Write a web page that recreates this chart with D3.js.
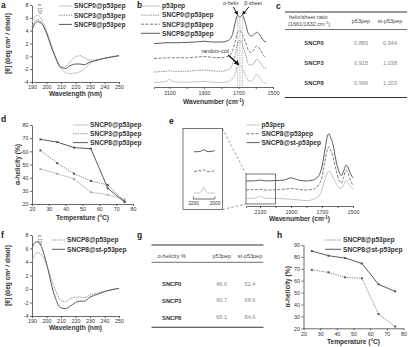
<!DOCTYPE html>
<html>
<head>
<meta charset="utf-8">
<script src="https://cdn.jsdelivr.net/npm/d3@7"></script>
<style>
body { margin: 0; background: #fff; }
svg { font-family: "Liberation Sans", Arial, sans-serif; }
</style>
</head>
<body>
<svg id="fig" width="408" height="347"></svg>
<script>
// ---------- data ----------
var cdWavelength = [190, 192, 194, 197, 200, 205, 210, 213, 216, 220, 223, 226, 230, 235, 240, 245, 250];
var cdSNCP0 = [5.3, 6.2, 6.4, 5.6, 4.0, 0.6, -1.9, -2.5, -2.7, -2.6, -2.4, -2.0, -1.1, -0.6, -0.3, -0.05, 0.1];
var cdSNCP3 = [4.6, 5.5, 5.7, 5.1, 3.7, 0.5, -1.7, -1.6, -0.9, -0.1, 0.1, -0.2, -0.6, -0.5, -0.3, -0.1, 0.1];
var cdSNCP8 = [4.1, 5.1, 5.4, 5.0, 3.6, 0.5, -1.7, -1.9, -1.5, -1.2, -1.2, -1.3, -0.9, -0.6, -0.3, -0.1, 0.1];
var cdSNCP8st = [6.0, 6.9, 7.0, 6.0, 3.8, -0.6, -2.8, -2.9, -2.6, -2.0, -1.8, -1.8, -1.2, -0.8, -0.4, -0.1, 0.1];
var cdTicksX = [190, 200, 210, 220, 230, 240, 250];
var cdTicksY = [-4, -2, 0, 2, 4, 6, 8];

var temps = [25, 35, 45, 55, 65, 75];
var helixSNCP0 = [46.6, 43, 39, 29, 27, 23.5];
var helixSNCP3 = [60.7, 51, 43, 37.5, 34.5, 22];
var helixSNCP8 = [69.1, 67, 62.8, 62, 32, 21.5];
var helixSNCP8st = [84.9, 81, 79, 74.5, 57, 51];
var tempTicks = [20, 30, 40, 50, 60, 70, 80];

// FTIR, panel b (absorbance, offset, a.u.)
var irWaveB = [2190, 2150, 2120, 2100, 2080, 2060, 2000, 1950, 1900, 1850, 1800, 1760, 1735, 1720, 1705, 1692, 1678, 1660, 1640, 1625, 1610, 1594, 1575, 1555, 1540];
var irP53 = [.06, .065, .075, .10, .075, .065, .065, .07, .075, .065, .06, .07, .11, .18, .28, .29, .25, .16, .08, .08, .12, .17, .12, .06, .05];
var irSNCP0 = [.20, .205, .21, .215, .21, .21, .21, .22, .225, .215, .21, .23, .30, .42, .58, .62, .57, .44, .30, .29, .32, .37, .33, .26, .25];
var irSNCP3 = [.38, .385, .39, .39, .39, .39, .39, .40, .405, .395, .39, .41, .48, .60, .73, .75, .70, .60, .48, .46, .50, .55, .50, .42, .40];
var irSNCP8 = [.58, .585, .59, .59, .59, .59, .595, .60, .61, .60, .60, .62, .70, .85, .96, .93, .96, .85, .70, .68, .70, .73, .69, .62, .60];
var irBands = [1705, 1692, 1678];

// FTIR, panel e
var irWaveE = [2190, 2150, 2120, 2100, 2080, 2060, 2000, 1950, 1900, 1850, 1800, 1760, 1720, 1700, 1680, 1665, 1655, 1645, 1630, 1610, 1590, 1575, 1560, 1545, 1530, 1515, 1500];
var irE_st = [.33, .33, .335, .34, .335, .33, .335, .34, .37, .34, .33, .34, .40, .52, .75, .92, .95, .90, .82, .60, .45, .40, .46, .54, .50, .42, .37];
var irE_p53 = [.21, .215, .215, .22, .215, .21, .215, .22, .23, .22, .21, .22, .28, .38, .60, .74, .78, .74, .65, .48, .34, .30, .38, .47, .42, .33, .28];
var irE_free = [.10, .10, .11, .13, .11, .10, .10, .095, .09, .08, .07, .085, .13, .22, .36, .44, .46, .44, .38, .30, .24, .23, .28, .34, .30, .25, .23];
var irTicks = [2100, 2000, 1900, 1800, 1700, 1600, 1500];

// tables
var tableRows = ["SNCP0", "SNCP3", "SNCP8"];
var ratioP53 = ["0.889", "0.915", "0.996"];
var ratioSt = ["0.944", "1.038", "1.203"];
var helicityP53 = ["46.6", "60.7", "69.1"];
var helicitySt = ["52.4", "68.6", "84.9"];

// ---------- styles ----------
var LIGHT = { stroke: "#c4c4c4", dash: null, w: 1 };
var DOTTED = { stroke: "#8e8e8e", dash: "1.4,1", w: 1 };
var DASHED = { stroke: "#6e6e6e", dash: "3,1.5", w: 0.9 };
var DARK = { stroke: "#5a5a5a", dash: null, w: 1 };
var TXT = "#333";

var svg = d3.select("#fig");

svg.append("defs").append("marker")
	.attr("id", "arr")
	.attr("viewBox", "0 0 10 10")
	.attr("refX", 8).attr("refY", 5)
	.attr("markerWidth", 4).attr("markerHeight", 4)
	.attr("orient", "auto")
	.append("path").attr("d", "M0,0 L10,5 L0,10 z").attr("fill", "#111");

function styleAxis(g) {
	g.attr("font-family", null).attr("font-size", null);
	g.select(".domain").attr("stroke", "#444").attr("stroke-width", 0.8);
	g.selectAll(".tick line").attr("stroke", "#444").attr("stroke-width", 0.8);
	g.selectAll(".tick text").attr("font-size", "5.3px").attr("fill", TXT);
}

function applyStyle(sel, st) {
	sel.attr("fill", "none")
		.attr("stroke", st.stroke)
		.attr("stroke-width", st.w)
		.attr("stroke-dasharray", st.dash);
}

function letter(t, x, y) {
	svg.append("text").attr("x", x).attr("y", y).text(t)
		.attr("font-size", "8.5px").attr("font-weight", "bold").attr("fill", "#222");
}

function legend(items, x, y, dy, len) {
	items.forEach(function (it, i) {
		applyStyle(svg.append("line")
			.attr("x1", x).attr("x2", x + len)
			.attr("y1", y + i * dy).attr("y2", y + i * dy), it.style);
		svg.append("text").attr("x", x + len + 2).attr("y", y + i * dy).attr("dy", ".35em")
			.text(it.name).attr("font-size", "6.6px").attr("font-weight", "bold").attr("fill", TXT);
	});
}

function lineChart(c) {
	var x = d3.scaleLinear().domain(c.xDomain).range(c.xRange);
	var y = d3.scaleLinear().domain(c.yDomain).range(c.yRange);
	var g = svg.append("g");

	g.append("g").attr("transform", "translate(0," + c.yRange[0] + ")")
		.call(d3.axisBottom(x).tickValues(c.xTicks).tickSize(2).tickSizeOuter(0).tickPadding(1.5)
			.tickFormat(function (d) { return String(d); }))
		.call(styleAxis);
	g.append("g").attr("transform", "translate(" + c.xRange[0] + ",0)")
		.call(d3.axisLeft(y).tickValues(c.yTicks).tickSize(2).tickSizeOuter(0).tickPadding(1.5)
			.tickFormat(function (d) { return String(d); }))
		.call(styleAxis);

	var line = d3.line()
		.x(function (d) { return x(d[0]); })
		.y(function (d) { return y(d[1]); })
		.curve(c.curve || d3.curveLinear);

	c.series.forEach(function (s) {
		var pts = c.xValues.map(function (v, i) { return [v, s.values[i]]; });
		applyStyle(g.append("path").datum(pts).attr("d", line), s.style);
		if (c.markers) {
			g.selectAll(null).data(pts).enter().append("rect")
				.attr("x", function (d) { return x(d[0]) - 1; })
				.attr("y", function (d) { return y(d[1]) - 1; })
				.attr("width", 2).attr("height", 2)
				.attr("fill", s.style.stroke === LIGHT.stroke ? "#aaa" : "#555");
		}
	});

	g.append("text").attr("x", (c.xRange[0] + c.xRange[1]) / 2).attr("y", c.xTitleY)
		.attr("text-anchor", "middle").text(c.xTitle)
		.attr("font-size", "6.6px").attr("font-weight", "bold").attr("fill", TXT);
	g.append("text")
		.attr("transform", "translate(" + c.yTitleX + "," + (c.yRange[0] + c.yRange[1]) / 2 + ") rotate(-90)")
		.attr("text-anchor", "middle").text(c.yTitle)
		.attr("font-size", "6.6px").attr("font-weight", "bold").attr("fill", TXT);

	legend(c.series, c.legend[0], c.legend[1], c.legend[2], c.legend[3]);
	return { x: x, y: y, g: g };
}

function irAxis(x, yPos, titleY) {
	var g = svg.append("g").attr("transform", "translate(0," + yPos + ")")
		.call(d3.axisBottom(x).tickValues(irTicks).tickSize(2).tickSizeOuter(2).tickPadding(2)
			.tickFormat(function (d) { return d % 200 === 100 ? String(d) : ""; }))
		.call(styleAxis);
	var t = svg.append("text").attr("x", (x.range()[0] + x.range()[1]) / 2).attr("y", titleY)
		.attr("text-anchor", "middle")
		.attr("font-size", "6.6px").attr("font-weight", "bold").attr("fill", TXT);
	t.append("tspan").text("Wavenumber (cm");
	t.append("tspan").text("-1").attr("font-size", "4.5px").attr("dy", "-2.5");
	t.append("tspan").text(")").attr("dy", "2.5");
}

// ---------- a ----------
letter("a", 1, 8);
var cdLabel = "[\u03b8] (deg cm\u00b2 / dmol)";
lineChart({
	xDomain: [190, 250], xRange: [32, 119], yDomain: [-4, 8], yRange: [82, 5],
	xTicks: cdTicksX, yTicks: cdTicksY, xValues: cdWavelength, curve: d3.curveMonotoneX,
	xTitle: "Wavelength (nm)", xTitleY: 96, yTitle: cdLabel, yTitleX: 10,
	series: [
		{ name: "SNCP0@p53pep", values: cdSNCP0, style: LIGHT },
		{ name: "SNCP3@p53pep", values: cdSNCP3, style: DOTTED },
		{ name: "SNCP8@p53pep", values: cdSNCP8, style: DARK }
	],
	legend: [59, 6, 9.2, 13]
});
svg.append("text").attr("transform", "translate(38,4) rotate(90)")
	.text("x 10\u00b3").attr("font-size", "4.5px").attr("fill", TXT);

// ---------- b ----------
letter("b", 137, 8);
var xB = d3.scaleLinear().domain([2190, 1500]).range([154, 273]);
var yB = d3.scaleLinear().domain([0, 1]).range([87, 12]);
var lineB = d3.line().x(function (d) { return xB(d[0]); }).y(function (d) { return yB(d[1]); })
	.curve(d3.curveMonotoneX);
var seriesB = [
	{ name: "p53pep", values: irP53, style: LIGHT },
	{ name: "SNCP0@p53pep", values: irSNCP0, style: DOTTED },
	{ name: "SNCP3@p53pep", values: irSNCP3, style: DASHED },
	{ name: "SNCP8@p53pep", values: irSNCP8, style: DARK }
];
irBands.forEach(function (w) {
	svg.append("line").attr("x1", xB(w)).attr("x2", xB(w)).attr("y1", yB(0.93)).attr("y2", yB(0))
		.attr("stroke", "#888").attr("stroke-width", 0.6).attr("stroke-dasharray", "1.5,1");
});
seriesB.forEach(function (s) {
	applyStyle(svg.append("path").datum(irWaveB.map(function (v, i) { return [v, s.values[i]]; }))
		.attr("d", lineB), s.style);
});
irAxis(xB, 87, 104);
legend(seriesB, 141, 6, 9.1, 19);
svg.append("text").attr("x", xB(1745)).attr("y", 5).attr("text-anchor", "middle").text("\u03b1-helix")
	.attr("font-size", "5.3px").attr("fill", TXT);
svg.append("text").attr("x", xB(1615)).attr("y", 5).attr("text-anchor", "middle").text("\u03b2-sheet")
	.attr("font-size", "5.3px").attr("fill", TXT);
svg.append("line").attr("x1", xB(1730)).attr("y1", 7).attr("x2", xB(1706)).attr("y2", yB(0.97))
	.attr("stroke", "#111").attr("stroke-width", 1).attr("marker-end", "url(#arr)");
svg.append("line").attr("x1", xB(1640)).attr("y1", 7).attr("x2", xB(1676)).attr("y2", yB(0.97))
	.attr("stroke", "#111").attr("stroke-width", 1).attr("marker-end", "url(#arr)");
svg.append("text").attr("x", xB(1835)).attr("y", 53).attr("text-anchor", "middle").text("random-coil")
	.attr("font-size", "5.3px").attr("fill", TXT);
svg.append("line").attr("x1", xB(1760)).attr("y1", 55).attr("x2", xB(1700)).attr("y2", yB(0.3))
	.attr("stroke", "#111").attr("stroke-width", 1.3).attr("marker-end", "url(#arr)");

// ---------- tables ----------
function table(c) {
	var g = svg.append("g");
	[c.top, c.mid, c.bottom].forEach(function (yy, i) {
		g.append("line").attr("x1", c.x0).attr("x2", c.x1).attr("y1", yy).attr("y2", yy)
			.attr("stroke", "#333").attr("stroke-width", i === 1 ? 0.7 : 1.1);
	});
	c.header.forEach(function (h) {
		var t = g.append("text").attr("x", h.x).attr("y", h.y).attr("text-anchor", h.anchor || "middle")
			.attr("font-size", "5.5px").attr("fill", "#444");
		h.parts.forEach(function (p) {
			var ts = t.append("tspan").text(p.t);
			if (p.sup) ts.attr("font-size", "4px").attr("dy", "-2");
			if (p.down) ts.attr("dy", "2");
		});
	});
	c.rows.forEach(function (r, i) {
		var yy = c.rowY[i];
		g.append("text").attr("x", c.colX[0]).attr("y", yy).attr("dy", ".35em").attr("text-anchor", "middle")
			.text(r).attr("font-size", "5.8px").attr("font-weight", "bold").attr("fill", "#333");
		g.append("text").attr("x", c.colX[1]).attr("y", yy).attr("dy", ".35em").attr("text-anchor", "middle")
			.text(c.a[i]).attr("font-size", "5.6px").attr("fill", "#888");
		g.append("text").attr("x", c.colX[2]).attr("y", yy).attr("dy", ".35em").attr("text-anchor", "middle")
			.text(c.b[i]).attr("font-size", "5.6px").attr("fill", "#888");
	});
}

letter("c", 276, 9);
table({
	x0: 285, x1: 407, top: 12, mid: 29.5, bottom: 97.5,
	header: [
		{ x: 289, y: 19, anchor: "start", parts: [{ t: "helix/sheet ratio" }] },
		{ x: 288, y: 26, anchor: "start", parts: [{ t: "(1661/1632 cm" }, { t: "-1", sup: true }, { t: ")", down: true }] },
		{ x: 361, y: 23, parts: [{ t: "p53pep" }] },
		{ x: 390, y: 23, parts: [{ t: "st-p53pep" }] }
	],
	rows: tableRows, a: ratioP53, b: ratioSt,
	rowY: [42.7, 62.7, 83.3], colX: [314, 361, 390]
});

letter("g", 137, 238);
table({
	x0: 151.5, x1: 263.5, top: 245, mid: 262.3, bottom: 327.3,
	header: [
		{ x: 171.7, y: 257.5, parts: [{ t: "\u03b1-helicity %" }] },
		{ x: 221.7, y: 257.5, parts: [{ t: "p53pep" }] },
		{ x: 250, y: 257.5, parts: [{ t: "st-p53pep" }] }
	],
	rows: tableRows, a: helicityP53, b: helicitySt,
	rowY: [284, 300.5, 317.5], colX: [171.7, 221.7, 250]
});

// ---------- d ----------
letter("d", 1, 122);
lineChart({
	xDomain: [20, 80], xRange: [32, 133], yDomain: [20, 80], yRange: [204, 125],
	xTicks: tempTicks, yTicks: [20, 30, 40, 50, 60, 70, 80], xValues: temps, markers: true,
	xTitle: "Temperature (\u00b0C)", xTitleY: 220, yTitle: "\u03b1-helicity (%)", yTitleX: 20,
	series: [
		{ name: "SNCP0@p53pep", values: helixSNCP0, style: LIGHT },
		{ name: "SNCP3@p53pep", values: helixSNCP3, style: DOTTED },
		{ name: "SNCP8@p53pep", values: helixSNCP8, style: DARK }
	],
	legend: [73, 125, 8.8, 15]
});

// ---------- e ----------
letter("e", 169, 124);
var xE = d3.scaleLinear().domain([2190, 1500]).range([246, 353]);
var yE = d3.scaleLinear().domain([0, 1]).range([206, 130]);
var seriesE = [
	{ name: "p53pep", values: irE_free, style: LIGHT, base: 193 },
	{ name: "SNCP8@p53pep", values: irE_p53, style: DASHED, base: 171.7 },
	{ name: "SNCP8@st-p53pep", values: irE_st, style: DARK, base: 151.7 }
];
var lineE = d3.line().x(function (d) { return xE(d[0]); }).y(function (d) { return yE(d[1]); })
	.curve(d3.curveMonotoneX);
seriesE.forEach(function (s) {
	applyStyle(svg.append("path").datum(irWaveE.map(function (v, i) { return [v, s.values[i]]; }))
		.attr("d", lineE), s.style);
});
irAxis(xE, 206, 221);
legend(seriesE, 246.5, 125, 8.8, 13);

// zoom box + inset
svg.append("rect").attr("x", xE(2190)).attr("y", 174).attr("width", xE(2000) - xE(2190)).attr("height", 30)
	.attr("fill", "none").attr("stroke", "#555").attr("stroke-width", 0.8);
svg.append("rect").attr("x", 183).attr("y", 128.5).attr("width", 39.5).attr("height", 81)
	.attr("fill", "none").attr("stroke", "#555").attr("stroke-width", 0.8);
svg.append("line").attr("x1", 222.5).attr("y1", 128.5).attr("x2", xE(2190)).attr("y2", 174)
	.attr("stroke", "#555").attr("stroke-width", 0.6).attr("stroke-dasharray", "2.5,2");
svg.append("line").attr("x1", 222.5).attr("y1", 209.5).attr("x2", xE(2190)).attr("y2", 204)
	.attr("stroke", "#555").attr("stroke-width", 0.6).attr("stroke-dasharray", "2.5,2");

var xIn = d3.scaleLinear().domain([2200, 2000]).range([193, 214.5]);
seriesE.forEach(function (s) {
	var pts = irWaveE.map(function (v, i) { return [v, s.values[i]]; })
		.filter(function (d) { return d[0] >= 2000; });
	var b0 = s.values[0];
	var yIn = d3.scaleLinear().domain([b0, b0 + 0.1]).range([s.base, s.base - 19]);
	applyStyle(svg.append("path").datum(pts)
		.attr("d", d3.line().x(function (d) { return xIn(d[0]); }).y(function (d) { return yIn(d[1]); })
			.curve(d3.curveMonotoneX)), s.style);
});
svg.append("g").attr("transform", "translate(0,198.5)")
	.call(d3.axisBottom(xIn).tickValues([2200, 2000]).tickSize(-2).tickSizeOuter(0).tickPadding(3)
		.tickFormat(function (d) { return String(d); }))
	.call(styleAxis)
	.call(function (g) { g.selectAll(".tick text").attr("font-size", "4.8px"); });

// ---------- f ----------
letter("f", 1, 238);
lineChart({
	xDomain: [190, 250], xRange: [32, 119], yDomain: [-4, 8], yRange: [316, 235],
	xTicks: cdTicksX, yTicks: cdTicksY, xValues: cdWavelength, curve: d3.curveMonotoneX,
	xTitle: "Wavelength (nm)", xTitleY: 330, yTitle: cdLabel, yTitleX: 10,
	series: [
		{ name: "SNCP8@p53pep", values: cdSNCP8, style: DOTTED },
		{ name: "SNCP8@st-p53pep", values: cdSNCP8st, style: DARK }
	],
	legend: [52, 240, 9.3, 13]
});
svg.append("text").attr("transform", "translate(38,235) rotate(90)")
	.text("x 10\u00b3").attr("font-size", "4.5px").attr("fill", TXT);

// ---------- h ----------
letter("h", 277, 238);
lineChart({
	xDomain: [20, 80], xRange: [303.5, 403.5], yDomain: [20, 90], yRange: [328.3, 245],
	xTicks: tempTicks, yTicks: [20, 30, 40, 50, 60, 70, 80, 90], xValues: temps, markers: true,
	xTitle: "Temperature (\u00b0C)", xTitleY: 344, yTitle: "\u03b1-helicity (%)", yTitleX: 290,
	series: [
		{ name: "SNCP8@p53pep", values: helixSNCP8, style: DOTTED },
		{ name: "SNCP8@st-p53pep", values: helixSNCP8st, style: DARK }
	],
	legend: [325, 240, 9.3, 16]
});
</script>
</body>
</html>
